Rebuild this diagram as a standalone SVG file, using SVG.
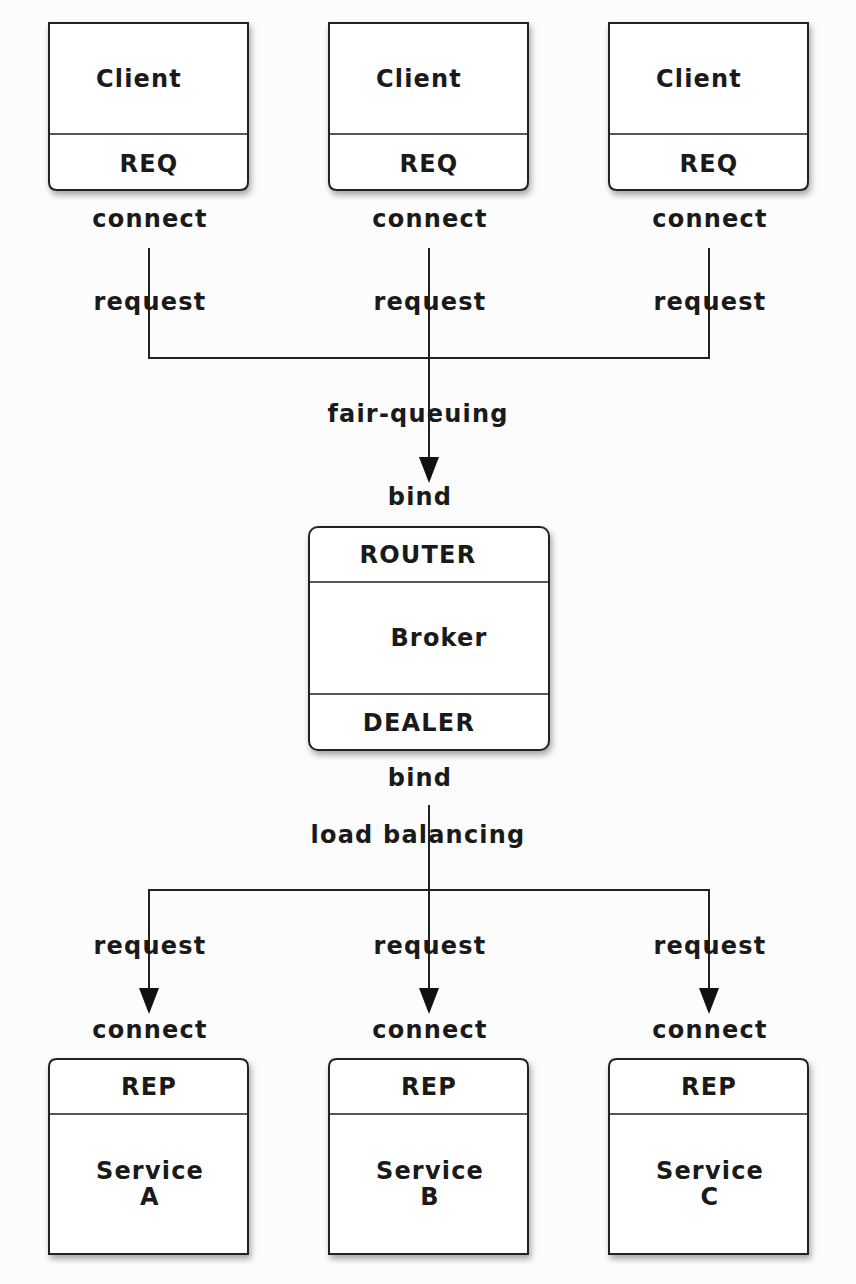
<svg xmlns="http://www.w3.org/2000/svg" width="856" height="1284" viewBox="0 0 856 1284">
<defs>
<style>
text{font-family:"DejaVu Sans",Verdana,sans-serif;font-weight:bold;font-size:24px;letter-spacing:1.2px;fill:#1a1a1a;text-anchor:middle}
.box{fill:#fff;stroke:#222;stroke-width:2}
.div{stroke:#222;stroke-width:1.6}
.ln{fill:none;stroke:#222;stroke-width:2}
.ah{fill:#111}
</style>
<filter id="sh" x="-10%" y="-10%" width="125%" height="125%">
<feDropShadow dx="2" dy="4" stdDeviation="3" flood-color="#000" flood-opacity="0.35"/>
</filter>
</defs>
<rect width="856" height="1284" fill="#fcfcfc"/>

<g id="connectors">
<path class="ln" d="M149,248 V358 H709 V248"/>
<path class="ln" d="M429,248 V458"/>
<path class="ah" d="M419,457 L439,457 L429,483 Z"/>
<path class="ln" d="M429,805 V989"/>
<path class="ln" d="M149,989 V890 H709 V989"/>
<path class="ah" d="M139,988 L159,988 L149,1014 Z"/>
<path class="ah" d="M419,988 L439,988 L429,1014 Z"/>
<path class="ah" d="M699,988 L719,988 L709,1014 Z"/>
</g>

<g id="labels">
<text x="150" y="227">connect</text>
<text x="430" y="227">connect</text>
<text x="710" y="227">connect</text>
<text x="150" y="310">request</text>
<text x="430" y="310">request</text>
<text x="710" y="310">request</text>
<text x="418" y="422">fair-queuing</text>
<text x="420" y="505">bind</text>
<text x="420" y="786">bind</text>
<text x="418" y="843">load balancing</text>
<text x="150" y="954">request</text>
<text x="430" y="954">request</text>
<text x="710" y="954">request</text>
<text x="150" y="1038">connect</text>
<text x="430" y="1038">connect</text>
<text x="710" y="1038">connect</text>
</g>

<g id="client1">
<path class="box" filter="url(#sh)" d="M49,23 H248 V182 Q248,190 240,190 H57 Q49,190 49,182 Z"/>
<line class="div" x1="49" y1="134" x2="248" y2="134"/>
<text x="139" y="87">Client</text>
<text x="149" y="172">REQ</text>
</g>
<g id="client2">
<path class="box" filter="url(#sh)" d="M329,23 H528 V182 Q528,190 520,190 H337 Q329,190 329,182 Z"/>
<line class="div" x1="329" y1="134" x2="528" y2="134"/>
<text x="419" y="87">Client</text>
<text x="429" y="172">REQ</text>
</g>
<g id="client3">
<path class="box" filter="url(#sh)" d="M609,23 H808 V182 Q808,190 800,190 H617 Q609,190 609,182 Z"/>
<line class="div" x1="609" y1="134" x2="808" y2="134"/>
<text x="699" y="87">Client</text>
<text x="709" y="172">REQ</text>
</g>

<g id="broker">
<rect class="box" filter="url(#sh)" x="309" y="527" width="240" height="223" rx="9"/>
<line class="div" x1="309" y1="582" x2="549" y2="582"/>
<line class="div" x1="309" y1="694" x2="549" y2="694"/>
<text x="418" y="563">ROUTER</text>
<text x="439" y="646">Broker</text>
<text x="419" y="731">DEALER</text>
</g>

<g id="serviceA">
<path class="box" filter="url(#sh)" d="M49,1254 V1067 Q49,1059 57,1059 H240 Q248,1059 248,1067 V1254 Z"/>
<line class="div" x1="49" y1="1114" x2="248" y2="1114"/>
<text x="149" y="1095">REP</text>
<text x="150" y="1179">Service</text>
<text x="150" y="1205">A</text>
</g>
<g id="serviceB">
<path class="box" filter="url(#sh)" d="M329,1254 V1067 Q329,1059 337,1059 H520 Q528,1059 528,1067 V1254 Z"/>
<line class="div" x1="329" y1="1114" x2="528" y2="1114"/>
<text x="429" y="1095">REP</text>
<text x="430" y="1179">Service</text>
<text x="430" y="1205">B</text>
</g>
<g id="serviceC">
<path class="box" filter="url(#sh)" d="M609,1254 V1067 Q609,1059 617,1059 H800 Q808,1059 808,1067 V1254 Z"/>
<line class="div" x1="609" y1="1114" x2="808" y2="1114"/>
<text x="709" y="1095">REP</text>
<text x="710" y="1179">Service</text>
<text x="710" y="1205">C</text>
</g>
</svg>
